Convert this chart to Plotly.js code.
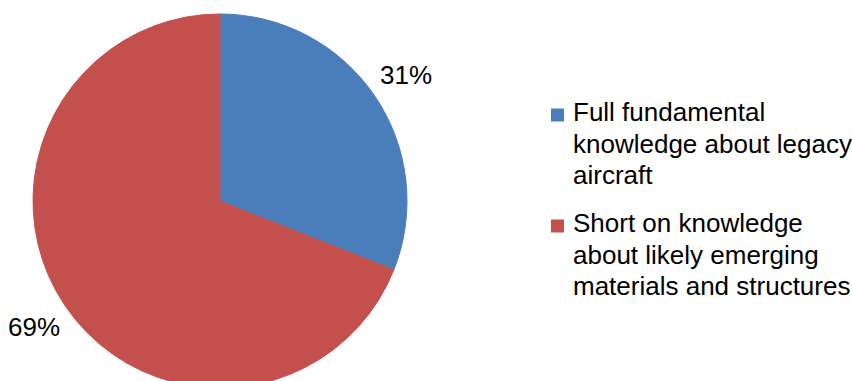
<!DOCTYPE html>
<html>
<head>
<meta charset="utf-8">
<script src="https://cdn.plot.ly/plotly-3.0.1.min.js"></script>
<style>
html, body { margin:0; padding:0; overflow:hidden; background:#fff; }
#chart { width:852px; height:402px; }
</style>
</head>
<body>
<div id="chart"></div>
<script>
// Data
var categories = [
  "Full fundamental<br>knowledge about legacy<br>aircraft",
  "Short on knowledge<br>about likely emerging<br>materials and structures"
];
var shares = [31, 69];
var sliceColors = ["#4A7EBB", "#C4504D"];

// Layout geometry (style)
var W = 852, H = 402;
var cxPx = 220, cyPx = 201, rPx = 187;
var domX = [(cxPx - rPx) / W, (cxPx + rPx) / W];
var domY = [1 - (cyPx + rPx) / H, 1 - (cyPx - rPx) / H];
var FONT = "Liberation Sans, Arial, Helvetica, sans-serif";

function px2x(p) { return p / W; }
function px2y(p) { return 1 - p / H; }

// Percentage labels placed outside along each slice's mid-angle
var total = shares.reduce(function(a, b) { return a + b; }, 0);
var annotations = [];
var shapes = [];
var cum = 0;
var labelR = rPx * 1.2;
for (var i = 0; i < shares.length; i++) {
  var mid = 2 * Math.PI * (cum + shares[i] / 2) / total;
  cum += shares[i];
  var px = cxPx + labelR * Math.sin(mid);
  var py = cyPx - labelR * Math.cos(mid);
  annotations.push({
    text: Math.round(shares[i] / total * 100) + "%",
    x: px2x(px), y: px2y(py), xref: "paper", yref: "paper",
    xanchor: "center", yanchor: "middle", showarrow: false,
    font: {family: FONT, size: 26, color: "#000"}
  });
}

// Legend (text lines + colour squares), built from categories / colours
var legendTextX = 571;
var legendFirstMid = [112, 223];   // centre of first line of each entry
var legendLineGap = 31.5;
for (var j = 0; j < categories.length; j++) {
  var lines = categories[j].split("<br>");
  for (var k = 0; k < lines.length; k++) {
    annotations.push({
      text: lines[k],
      x: px2x(legendTextX), y: px2y(legendFirstMid[j] + k * legendLineGap),
      xref: "paper", yref: "paper", xanchor: "left", yanchor: "middle",
      showarrow: false,
      font: {family: FONT, size: 26, color: "#000"}
    });
  }
  var sq = legendFirstMid[j] + 3;
  shapes.push({
    type: "rect", xref: "paper", yref: "paper",
    x0: px2x(551), x1: px2x(564), y0: px2y(sq - 6.5), y1: px2y(sq + 6.5),
    fillcolor: sliceColors[j], line: {width: 0}
  });
}

var trace = {
  type: "pie",
  labels: categories,
  values: shares,
  sort: false,
  direction: "clockwise",
  rotation: 0,
  textinfo: "none",
  hoverinfo: "label+percent",
  marker: {colors: sliceColors, line: {color: sliceColors, width: 1}},
  domain: {x: domX, y: domY}
};

var layout = {
  width: W, height: H,
  margin: {l: 0, r: 0, t: 0, b: 0},
  paper_bgcolor: "#fff",
  showlegend: false,
  annotations: annotations,
  shapes: shapes
};

Plotly.newPlot("chart", [trace], layout, {displayModeBar: false, staticPlot: true});
</script>
</body>
</html>
